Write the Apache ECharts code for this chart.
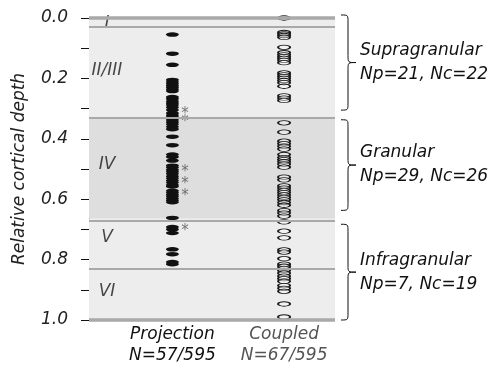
<!DOCTYPE html>
<html>
<head>
<meta charset="utf-8">
<script src="https://cdn.jsdelivr.net/npm/echarts@6/dist/echarts.min.js"></script>
<style>
  html, body { margin: 0; padding: 0; background: #fff; }
  #depthChart { width: 492px; height: 371px; }
</style>
</head>
<body>
<div id="depthChart"></div>
<script>
// 层边界 (relative cortical depth)
var layerBounds = [0, 0.033, 0.334, 0.665, 0.834, 1.0];
var layerNames = ['I', 'II/III', 'IV', 'V', 'VI'];
var layerLabelDepth = [0.019, 0.175, 0.486, 0.728, 0.907];

// projection neurons (filled)
var projectionDepth = [
    0.055, 0.118, 0.155, 0.205, 0.212, 0.218, 0.224, 0.230, 0.236, 0.242,
    0.262, 0.268, 0.276, 0.282, 0.288, 0.296, 0.305, 0.315, 0.322, 0.328, 0.332,
    0.338, 0.345, 0.352, 0.360, 0.368, 0.393, 0.421, 0.452, 0.460, 0.472,
    0.489, 0.495, 0.503, 0.509, 0.516, 0.524, 0.531, 0.538, 0.545, 0.553, 0.558,
    0.572, 0.578, 0.585, 0.591, 0.598, 0.604, 0.610, 0.662,
    0.692, 0.700, 0.712, 0.766, 0.782, 0.808, 0.815
];
// starred projection neurons
var starDepth = [0.304, 0.332, 0.496, 0.537, 0.576, 0.692];

// coupled neurons (open)
var coupledDepth = [
    0.000, 0.048, 0.053, 0.058, 0.064, 0.097, 0.115, 0.122, 0.128, 0.134,
    0.140, 0.148, 0.182, 0.188, 0.194, 0.200, 0.207, 0.214, 0.226, 0.258, 0.265, 0.273,
    0.347, 0.378, 0.408, 0.416, 0.425, 0.434, 0.452, 0.462, 0.469, 0.476,
    0.484, 0.494, 0.527, 0.536, 0.556, 0.563, 0.571, 0.578, 0.586, 0.594,
    0.602, 0.611, 0.620, 0.638, 0.646, 0.656,
    0.675, 0.706, 0.728, 0.768, 0.775, 0.797, 0.815, 0.822, 0.829, 0.836,
    0.845, 0.855, 0.863, 0.872, 0.886, 0.895, 0.905, 0.947, 0.990
];

var columnNames = ['Projection', 'Coupled'];
var columnCounts = ['N=57/595', 'N=67/595'];

var groupNames = ['Supragranular', 'Granular', 'Infragranular'];
var groupRanges = [[-0.01, 0.305], [0.337, 0.637], [0.683, 1.0]];
var groupNp = [21, 29, 7];
var groupNc = [22, 26, 19];

var FONT = 'DejaVu Sans';
var projX = 0.339, coupX = 0.793, starX = 0.39, layerX = 0.073;

var myChart = echarts.init(document.getElementById('depthChart'));

var bandAreas = [];
for (var i = 0; i < layerNames.length; i++) {
    bandAreas.push([
        { yAxis: layerBounds[i], itemStyle: { color: i === 2 ? '#dedede' : '#ededed' } },
        { yAxis: layerBounds[i + 1] }
    ]);
}
var boundLines = layerBounds.map(function (b, i) {
    var edge = (i === 0 || i === layerBounds.length - 1);
    return { yAxis: b, lineStyle: { color: '#a9a9a9', width: edge ? 3.5 : 2, type: 'solid' } };
});

// 花括号 + 文字
function renderBrace(params, api) {
    var yt = api.coord([1, api.value(0)])[1];
    var yb = api.coord([1, api.value(1)])[1];
    var xr = api.coord([1, 0])[0];
    var x0 = xr + 6, xs = x0 + 7, xp = x0 + 15;
    var ym = (yt + yb) / 2, r = 7;
    var ls = { stroke: '#111', lineWidth: 1, fill: null };
    var idx = params.dataIndex;
    return {
        type: 'group',
        children: [
            { type: 'bezierCurve', shape: { x1: x0, y1: yt, cpx1: xs, cpy1: yt, cpx2: xs, cpy2: yt, x2: xs, y2: yt + r }, style: ls },
            { type: 'line', shape: { x1: xs, y1: yt + r, x2: xs, y2: ym - r }, style: ls },
            { type: 'bezierCurve', shape: { x1: xs, y1: ym - r, cpx1: xs, cpy1: ym, cpx2: xs, cpy2: ym, x2: xp, y2: ym }, style: ls },
            { type: 'bezierCurve', shape: { x1: xp, y1: ym, cpx1: xs, cpy1: ym, cpx2: xs, cpy2: ym, x2: xs, y2: ym + r }, style: ls },
            { type: 'line', shape: { x1: xs, y1: ym + r, x2: xs, y2: yb - r }, style: ls },
            { type: 'bezierCurve', shape: { x1: xs, y1: yb - r, cpx1: xs, cpy1: yb, cpx2: xs, cpy2: yb, x2: x0, y2: yb }, style: ls },
            {
                type: 'text',
                style: {
                    text: groupNames[idx] + '\nNp=' + groupNp[idx] + ', Nc=' + groupNc[idx],
                    x: xp + 4, y: ym,
                    fill: '#111',
                    font: 'italic 17px "' + FONT + '"',
                    lineHeight: 24,
                    verticalAlign: 'middle',
                    align: 'left'
                }
            }
        ]
    };
}

var option = {
    animation: false,
    grid: { left: 89, right: 157, top: 18, bottom: 51 },
    xAxis: {
        type: 'value', min: 0, max: 1,
        axisLine: { show: false }, axisTick: { show: false }, splitLine: { show: false },
        axisLabel: {
            customValues: [projX, coupX],
            margin: 4,
            formatter: function (v) {
                var k = Math.abs(v - projX) < 0.01 ? 0 : 1;
                var st = k === 0 ? 'p' : 'c';
                return '{' + st + '|' + columnNames[k] + '}\n{' + st + '|' + columnCounts[k] + '}';
            },
            rich: {
                p: { fontFamily: FONT, fontStyle: 'italic', fontSize: 17, color: '#111', lineHeight: 21 },
                c: { fontFamily: FONT, fontStyle: 'italic', fontSize: 17, color: '#555', lineHeight: 21 }
            }
        }
    },
    yAxis: {
        type: 'value', min: 0, max: 1, interval: 0.1, inverse: true,
        offset: 9,
        name: 'Relative cortical depth', nameLocation: 'middle', nameGap: 52,
        nameTextStyle: { fontFamily: FONT, fontStyle: 'italic', fontSize: 17, color: '#222' },
        axisLine: { show: true, lineStyle: { color: '#111', width: 1 } },
        axisTick: { show: true, length: 8, lineStyle: { color: '#111' } },
        splitLine: { show: false },
        axisLabel: {
            margin: 12, fontFamily: FONT, fontStyle: 'italic', fontSize: 17, color: '#222',
            formatter: function (v) {
                var t = Math.round(v * 10);
                return t % 2 === 0 ? (t / 10).toFixed(1) : '';
            }
        }
    },
    series: [
        {
            name: 'layers', type: 'scatter', z: 1, silent: true,
            symbolSize: 1, itemStyle: { color: 'transparent' },
            data: layerLabelDepth.map(function (d) { return [layerX, d]; }),
            label: {
                show: true, position: 'inside',
                fontFamily: FONT, fontStyle: 'italic', fontSize: 17, color: '#1a1a1a',
                formatter: function (p) { return layerNames[p.dataIndex]; }
            },
            markArea: { silent: true, data: bandAreas },
            markLine: { silent: true, symbol: 'none', label: { show: false }, data: boundLines }
        },
        {
            name: 'Projection', type: 'scatter', z: 3,
            symbol: 'circle', symbolSize: [13, 4.5],
            itemStyle: { color: '#111', opacity: 1 },
            data: projectionDepth.map(function (d) { return [projX, d]; })
        },
        {
            name: 'Coupled', type: 'scatter', z: 3,
            symbol: 'circle', symbolSize: [12, 4.5],
            itemStyle: { color: 'rgba(255,255,255,0.35)', borderColor: '#1a1a1a', borderWidth: 1.3, opacity: 1 },
            data: coupledDepth.map(function (d) { return [coupX, d]; })
        },
        {
            name: 'stars', type: 'scatter', z: 4, silent: true,
            symbolSize: 1, itemStyle: { color: 'transparent' },
            data: starDepth.map(function (d) { return [starX, d]; }),
            label: {
                show: true, position: 'inside', offset: [0, 4],
                formatter: '*', fontFamily: FONT, fontSize: 15, color: '#555'
            }
        },
        {
            name: 'groups', type: 'custom', z: 2, silent: true,
            renderItem: renderBrace,
            clip: false,
            data: groupRanges
        }
    ]
};

myChart.setOption(option);
</script>
</body>
</html>
